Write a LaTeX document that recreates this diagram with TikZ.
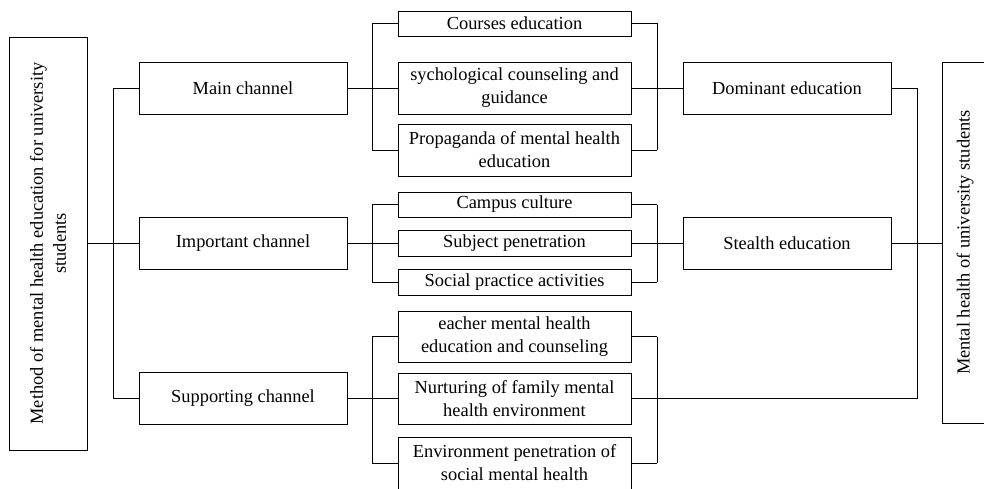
\documentclass[tikz,border=0pt]{standalone}
\usepackage{fontspec}
\setmainfont{Liberation Serif}
\begin{document}
\begin{tikzpicture}[x=1pt,y=-1pt,
  every node/.style={font=\fontsize{18.4}{23}\selectfont, inner sep=0pt},
  box/.style={draw, line width=0.9pt, align=center, minimum width=#1},
  box/.default=233,
  conn/.style={line width=0.9pt}]
\useasboundingbox (0,0) rectangle (984,489);
\clip (0,0) rectangle (984,489);
\fill[white] (0,0) rectangle (984,489);
% outer boxes
\node[box=78, minimum height=413] (L) at (48,243.5) {};
\node[rotate=90, align=center] (Lt) at (L.center) {Method of mental health education for university\\students};
\node[box=46, minimum height=361] (R) at (965,242.5) {};
\node[rotate=90] (Rt) at (R.center) {Mental health of university students};
% channels
\node[box=208, minimum height=52] (M) at (243,88) {Main channel};
\node[box=208, minimum height=52] (I) at (243,243) {Important channel};
\node[box=208, minimum height=52] (S) at (243,398.5) {Supporting channel};
% main children
\node[box, minimum height=25] (C1) at (514.5,23.5) {Courses education};
\node[box, minimum height=52] (C2) at (514.5,88) {sychological counseling and\\guidance};
\node[box, minimum height=52] (C3) at (514.5,150) {Propaganda of mental health\\education};
% important children
\node[box, minimum height=25] (I1) at (514.5,204.5) {Campus culture};
\node[box, minimum height=26] (I2) at (514.5,243) {Subject penetration};
\node[box, minimum height=26] (I3) at (514.5,282) {Social practice activities};
% supporting children
\node[box, minimum height=51] (S1) at (514.5,336.5) {eacher mental health\\education and counseling};
\node[box, minimum height=51] (S2) at (514.5,398.5) {Nurturing of family mental\\health environment};
\node[box, minimum height=52] (S3) at (514.5,463) {Environment penetration of\\social mental health};
% results
\node[box=208, minimum height=52] (D) at (787,88) {Dominant education};
\node[box=208, minimum height=52] (H) at (787,243) {Stealth education};
% bus coordinates
\coordinate (lb) at (113,0);
\coordinate (mb) at (372,0);
\coordinate (rb) at (657,0);
\coordinate (ob) at (917,0);
% left tree
\draw[conn] (L.east) -- (lb |- L.east);
\draw[conn] (lb |- M.west) -- (lb |- S.west);
\draw[conn] (lb |- M.west) -- (M.west);
\draw[conn] (lb |- I.west) -- (I.west);
\draw[conn] (lb |- S.west) -- (S.west);
% main group
\draw[conn] (M.east) -- (mb |- M.east);
\draw[conn] (mb |- C1.west) -- (mb |- C3.west);
\draw[conn] (mb |- C1.west) -- (C1.west);
\draw[conn] (mb |- C2.west) -- (C2.west);
\draw[conn] (mb |- C3.west) -- (C3.west);
\draw[conn] (rb |- C1.east) -- (rb |- C3.east);
\draw[conn] (C1.east) -- (rb |- C1.east);
\draw[conn] (C3.east) -- (rb |- C3.east);
\draw[conn] (C2.east) -- (D.west);
% important group
\draw[conn] (I.east) -- (mb |- I.east);
\draw[conn] (mb |- I1.west) -- (mb |- I3.west);
\draw[conn] (mb |- I1.west) -- (I1.west);
\draw[conn] (mb |- I2.west) -- (I2.west);
\draw[conn] (mb |- I3.west) -- (I3.west);
\draw[conn] (rb |- I1.east) -- (rb |- I3.east);
\draw[conn] (I1.east) -- (rb |- I1.east);
\draw[conn] (I3.east) -- (rb |- I3.east);
\draw[conn] (I2.east) -- (H.west);
% supporting group
\draw[conn] (S.east) -- (mb |- S.east);
\draw[conn] (mb |- S1.west) -- (mb |- S3.west);
\draw[conn] (mb |- S1.west) -- (S1.west);
\draw[conn] (mb |- S2.west) -- (S2.west);
\draw[conn] (mb |- S3.west) -- (S3.west);
\draw[conn] (rb |- S1.east) -- (rb |- S3.east);
\draw[conn] (S1.east) -- (rb |- S1.east);
\draw[conn] (S3.east) -- (rb |- S3.east);
\draw[conn] (S2.east) -- (ob |- S2.east);
% right tree
\draw[conn] (D.east) -- (ob |- D.east) -- (ob |- S2.east);
\draw[conn] (H.east) -- (R.west |- H.east);
\end{tikzpicture}
\end{document}
